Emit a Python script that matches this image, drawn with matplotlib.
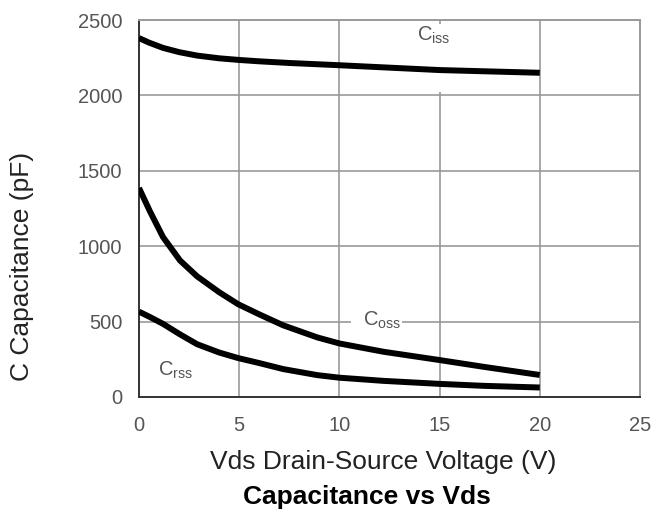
import matplotlib.pyplot as plt

# capacitance curves, pF vs Vds (V)
vds_iss = [0, 0.5, 1.2, 2, 2.9, 4, 5, 6, 7.5, 10, 12.5, 15, 17.5, 20]
ciss = [2380, 2350, 2315, 2287, 2264, 2246, 2235, 2226, 2215, 2200, 2184, 2168, 2159, 2150]

vds = [0, 0.55, 1.2, 2.05, 2.9, 4, 4.95, 6, 7.2, 8.9, 10, 12.2, 15, 17.2, 20]
coss = [1386, 1230, 1060, 905, 800, 695, 615, 548, 475, 395, 355, 300, 245, 200, 146]
crss = [566, 530, 485, 415, 350, 295, 258, 225, 185, 145, 128, 107, 87, 74, 63]

x_ticks = [0, 5, 10, 15, 20, 25]
y_ticks = [0, 500, 1000, 1500, 2000, 2500]

plt.rcParams.update({
    "font.family": "Liberation Sans",
    "mathtext.fontset": "custom",
    "mathtext.rm": "Liberation Sans",
    "mathtext.it": "Liberation Sans",
})

GRID = "#999999"
TICK = "#555555"

fig = plt.figure(figsize=(6.51, 5.14), dpi=100)
ax = fig.add_axes([139 / 651, 1 - 397 / 514, 501 / 651, 377 / 514])
ax.set_xlim(0, 25)
ax.set_ylim(0, 2500)

# grid drawn by hand so the label gaps can be left open
for xv in x_ticks[1:-1]:
    if xv == 15:
        ax.vlines(xv, 0, 2020, color=GRID, lw=1.2, zorder=1)
        ax.vlines(xv, 2475, 2500, color=GRID, lw=1.2, zorder=1)
    else:
        ax.vlines(xv, 0, 2500, color=GRID, lw=1.2, zorder=1)
for yv in y_ticks[1:-1]:
    if yv == 500:
        ax.hlines(yv, 0, 10.6, color=GRID, lw=1.2, zorder=1)
        ax.hlines(yv, 13.1, 25, color=GRID, lw=1.2, zorder=1)
    else:
        ax.hlines(yv, 0, 25, color=GRID, lw=1.2, zorder=1)

for s in ["top", "right"]:
    ax.spines[s].set_color(GRID)
    ax.spines[s].set_linewidth(1.4)
for s in ["left", "bottom"]:
    ax.spines[s].set_color("#333333")
    ax.spines[s].set_linewidth(1.4)

ax.plot(vds_iss, ciss, color="black", lw=4.3, solid_capstyle="butt",
        solid_joinstyle="round", zorder=3)
for y in (coss, crss):
    ax.plot(vds, y, color="black", lw=4.3, solid_capstyle="butt",
            solid_joinstyle="round", zorder=3)

ax.set_xticks(x_ticks)
ax.set_yticks(y_ticks)
ax.tick_params(length=0, labelsize=14.5, labelcolor=TICK)
ax.tick_params(axis="y", pad=12)
ax.tick_params(axis="x", pad=14)

ax.text(13.85, 2400, r"C$_{\rm iss}$", fontsize=14.5, color=TICK, ha="left", va="center")
ax.text(11.2, 505, r"C$_{\rm oss}$", fontsize=14.5, color=TICK, ha="left", va="center")
ax.text(0.95, 180, r"C$_{\rm rss}$", fontsize=14.5, color=TICK, ha="left", va="center")

fig.text(383 / 651, 1 - 462 / 514, "Vds Drain-Source Voltage (V)", fontsize=19,
         color="#222222", ha="center", va="center")
fig.text(22 / 651, 1 - 266 / 514, "C Capacitance (pF)", fontsize=19,
         color="#222222", ha="center", va="center", rotation=90)
fig.text(367 / 651, 1 - 497 / 514, "Capacitance vs Vds", fontsize=19,
         fontweight="bold", color="black", ha="center", va="center")

fig.savefig("out.png", dpi=100)
